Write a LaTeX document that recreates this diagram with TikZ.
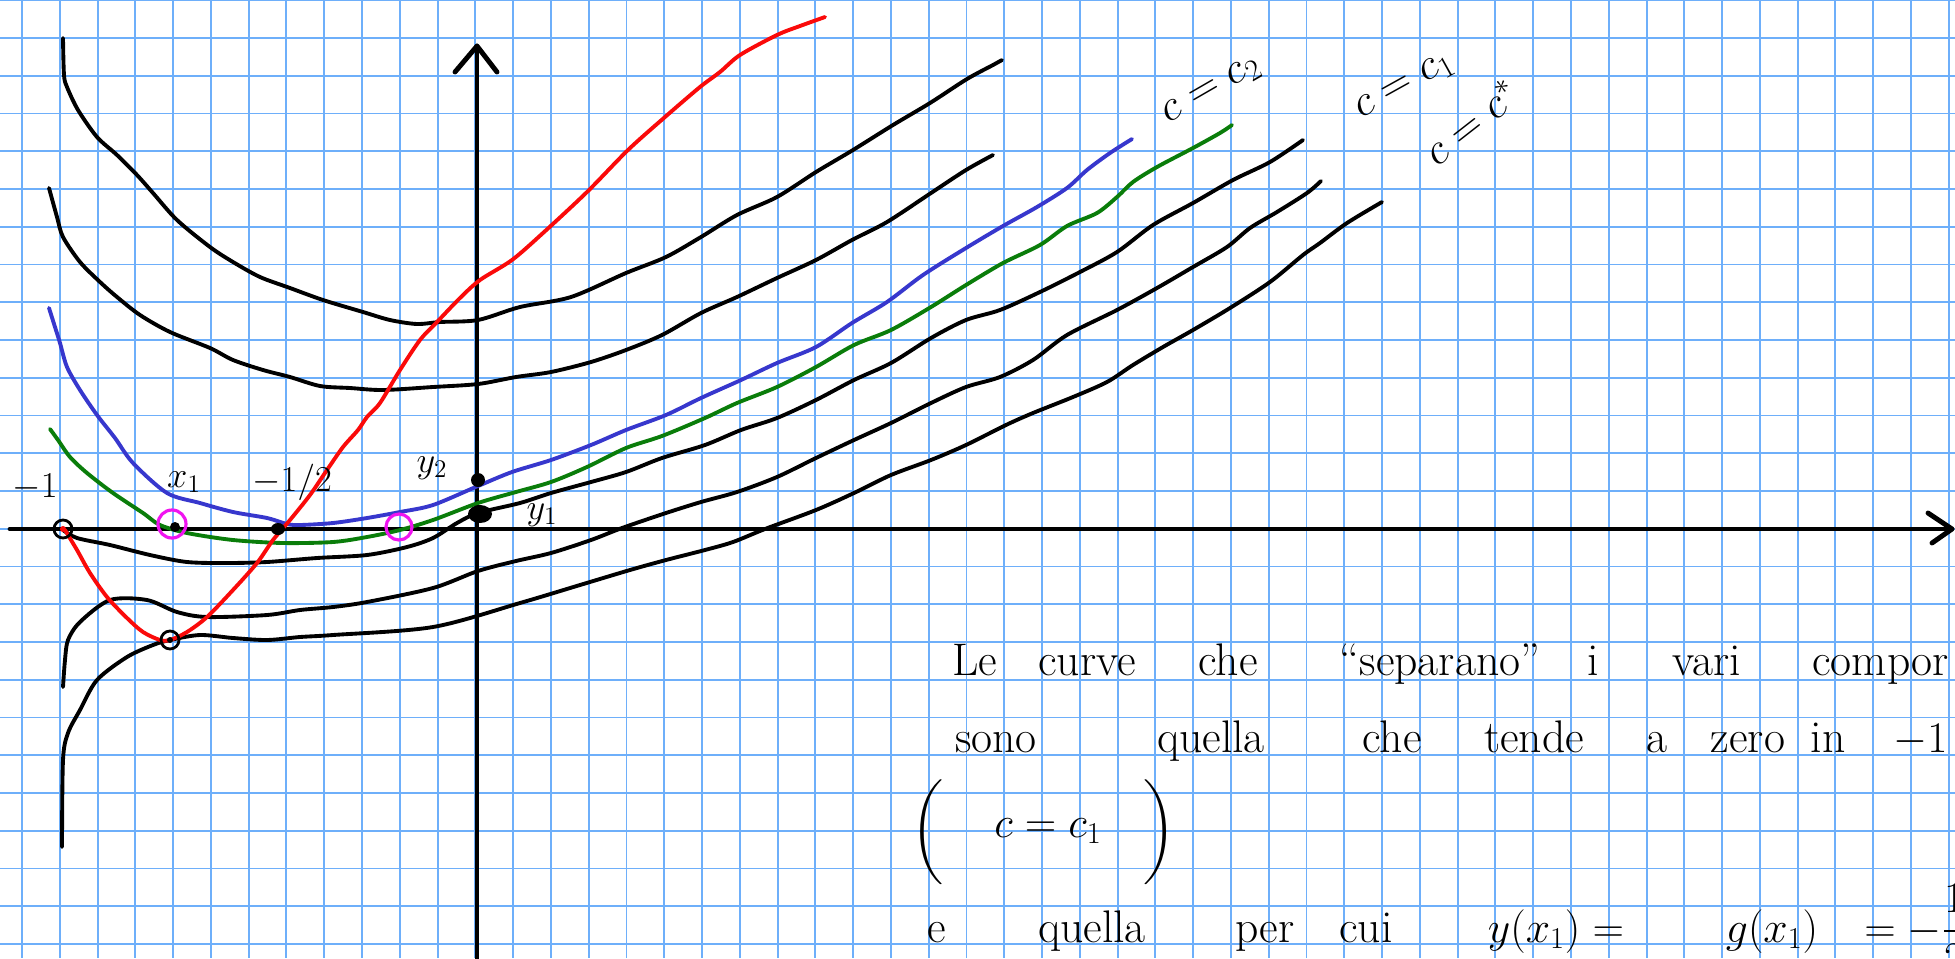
\documentclass[tikz,border=0pt]{standalone}
\usepackage{amsmath}
\definecolor{gridblue}{RGB}{110,175,250}
\definecolor{cblue}{RGB}{55,55,205}
\definecolor{cgreen}{RGB}{10,125,10}
\definecolor{cred}{RGB}{250,10,10}
\definecolor{cmag}{RGB}{240,20,240}
\begin{document}
\begin{tikzpicture}[x=0.02cm,y=-0.02cm,
  gridline/.style={gridblue, line width=1.1pt},
  axisline/.style={black, line width=2.8pt, line cap=round, line join=round},
  curveline/.style={line width=2.2pt, line cap=round, line join=round},
  lbl/.style={font=\fontsize{20}{24}\selectfont, inner sep=0pt},
  clbl/.style={font=\fontsize{26}{30}\selectfont, inner sep=0pt},
  word/.style={font=\fontsize{26}{30}\selectfont, inner sep=0pt, anchor=base},
  wordw/.style={font=\fontsize{26}{30}\selectfont, inner sep=0pt, anchor=base west},
]
\useasboundingbox (0,0) rectangle (1955,958);
\clip (0,0) rectangle (1955,958);
\fill[white] (0,0) rectangle (1955,958);
% grid
\foreach \i in {0,...,51} \draw[gridline] ({22+37.78*\i},0) -- ({22+37.78*\i},958);
\foreach \j in {0,...,25} \draw[gridline] (0,{0.25+37.75*\j}) -- (1955,{0.25+37.75*\j});
% axes
\coordinate (xs) at (10,529);
\coordinate (xe) at (1952,529);
\coordinate (ys) at (477,958);
\coordinate (ye) at (477,46);
\draw[axisline] (xs) -- (xe);
\draw[axisline] (1928,513) -- (xe) -- (1932,543);
\draw[axisline] (ys) -- (ye);
\draw[axisline] (455,72) -- (ye) -- (497,72);
% curve A
\draw[curveline] plot[smooth, tension=0.5] coordinates {(63,38) (64,75) (67,87) (78,110) (97,137) (117,155) (137,175) (153,193) (177,220) (210,247) (233,262) (260,277) (290,288) (323,300) (363,312) (390,320) (417,324) (440,322) (478,320) (520,307) (571,297) (626,273) (666,257) (701,237) (737,215) (777,197) (816,172) (853,150) (893,125) (930,103) (967,79) (993,65) (1002,60)};
% curve B
\draw[curveline] plot[smooth, tension=0.5] coordinates {(49,188) (57,217) (63,237) (80,262) (100,282) (117,297) (140,315) (170,332) (210,348) (233,360) (263,370) (290,377) (320,386) (350,388) (383,390) (433,387) (478,384) (516,377) (551,372) (591,362) (626,350) (662,335) (701,313) (737,297) (777,278) (816,260) (852,240) (887,222) (931,193) (966,170) (993,155)};
% curve E
\draw[curveline] plot[smooth, tension=0.5] coordinates {(63,530) (77,538) (110,545) (150,555) (187,562) (227,563) (267,562) (317,558) (367,555) (407,547) (433,538) (457,523) (478,513) (520,503) (551,493) (591,482) (626,472) (662,458) (705,445) (741,430) (777,418) (816,400) (854,380) (891,363) (931,338) (966,320) (1000,310) (1040,292) (1080,272) (1117,252) (1153,225) (1193,203) (1233,180) (1270,162) (1303,140)};
% curve F
\draw[curveline] plot[smooth, tension=0.5] coordinates {(63,687) (65,660) (68,640) (80,622) (110,600) (147,600) (177,612) (207,617) (267,615) (300,610) (333,607) (367,602) (433,588) (478,571) (516,561) (551,553) (591,540) (622,528) (666,513) (701,502) (737,492) (777,477) (816,458) (854,440) (891,423) (931,403) (966,387) (1000,377) (1033,360) (1067,335) (1117,310) (1157,288) (1193,267) (1227,247) (1250,228) (1277,212) (1307,193) (1321,181)};
% curve G
\draw[curveline] plot[smooth, tension=0.5] coordinates {(62,847) (63,760) (68,733) (80,710) (97,680) (127,657) (153,645) (170,640) (200,635) (233,638) (267,640) (300,637) (333,635) (433,627) (520,603) (580,585) (630,570) (666,560) (705,550) (733,542) (765,529) (816,510) (854,493) (891,475) (931,460) (966,445) (1006,425) (1033,413) (1073,397) (1107,382) (1133,365) (1163,347) (1193,330) (1230,308) (1270,282) (1303,255) (1320,243) (1347,223) (1382,202)};
% blue
\draw[curveline, cblue] plot[smooth, tension=0.5] coordinates {(49,308) (55,327) (60,343) (67,367) (80,390) (97,415) (115,438) (133,463) (167,493) (200,503) (233,512) (267,518) (287,524) (300,525) (333,523) (367,518) (400,512) (433,505) (478,486) (512,472) (551,460) (591,445) (626,430) (666,415) (701,398) (741,380) (777,363) (816,347) (852,323) (887,302) (923,275) (966,248) (1003,226) (1037,207) (1067,188) (1087,170) (1110,153) (1132,139)};
% green
\draw[curveline, cgreen] plot[smooth, tension=0.5] coordinates {(50,429) (58,440) (70,457) (87,473) (113,493) (143,513) (160,525) (187,533) (233,540) (283,543) (333,542) (367,537) (400,530) (433,520) (478,503) (516,492) (551,482) (587,467) (626,448) (662,436) (705,418) (737,403) (777,387) (816,367) (854,345) (891,330) (931,307) (966,285) (1003,263) (1040,245) (1067,226) (1097,213) (1117,197) (1133,182) (1157,167) (1193,148) (1220,133) (1232,125)};
% red
\draw[curveline, cred] plot[smooth, tension=0.5] coordinates {(65,530) (77,550) (90,573) (107,597) (127,618) (143,632) (160,640) (170,640) (187,632) (207,617) (233,590) (257,563) (273,540) (290,520) (310,495) (327,470) (343,447) (358,430) (367,417) (380,403) (400,370) (420,340) (437,322) (460,298) (480,280) (512,260) (543,233) (587,192) (628,150) (665,117) (700,87) (720,72) (740,55) (777,35) (800,26) (825,17)};
% points
\draw[black, line width=1.6pt] (63,529) circle [radius=9];
\fill[cred] (63,529) circle [radius=3];
\draw[black, line width=1.6pt] (170,640) circle [radius=9];
\fill[black] (170,640) circle [radius=3];
\draw[cmag, line width=1.8pt] (172,524) circle [radius=14];
\fill[black] (175,527) circle [radius=5];
\fill[black] (278,529) ellipse [x radius=7, y radius=6];
\draw[cmag, line width=1.8pt] (399,527) circle [radius=13];
\fill[black] (478,480) circle [radius=7];
\fill[black] (480,514) ellipse [x radius=12, y radius=9];
% labels
\node[lbl] (lm1) at (35,487) {$-1$};
\node[lbl] (lx1) at (184,482) {$x_1$};
\node[lbl] (lhalf) at (292,482) {$-1/2$};
\node[lbl] (ly2) at (432,468) {$y_2$};
\node[lbl] (ly1) at (542,515) {$y_1$};
\node[clbl, rotate=30] (lc2) at (1212,91) {$c = c_{2}$};
\node[clbl, rotate=29] (lc1) at (1405,87) {$c = c_{1}$};
\node[clbl, rotate=38] (lcs) at (1471,122) {$c = c^{*}$};
% text line 1
\node[word] (w11) at (975,675) {Le};
\node[word] (w12) at (1087,675) {curve};
\node[word] (w13) at (1228,675) {che};
\node[word] (w14) at (1440,675) {``separano''};
\node[word] (w15) at (1593,675) {i};
\node[word] (w16) at (1707,675) {vari};
\node[wordw] (w17) at (1812,675) {compor};
% text line 2
\node[word] (w21) at (996,752) {sono};
\node[word] (w22) at (1211,752) {quella};
\node[word] (w23) at (1392,752) {che};
\node[word] (w24) at (1534,752) {tende};
\node[word] (w25) at (1657,752) {a};
\node[word] (w26) at (1748,752) {zero};
\node[word] (w27) at (1828,752) {in};
\node[wordw] (w28) at (1893,752) {$-1$};
% text line 3
\node[word, font=\fontsize{23}{26}\selectfont] (w31) at (928,843) {$\biggl($};
\node[word] (w32) at (1048,837) {$c = c_1$};
\node[word, font=\fontsize{23}{26}\selectfont] (w33) at (1160,843) {$\biggr)$};
% text line 4
\node[word] (w41) at (937,942) {e};
\node[word] (w42) at (1092,942) {quella};
\node[word] (w43) at (1265,942) {per};
\node[word] (w44) at (1366,942) {cui};
\node[word] (w45) at (1556,942) {$y(x_1) =$};
\node[word] (w46) at (1772,942) {$g(x_1)$};
\node[wordw] (w47) at (1864,942) {$=-\dfrac{1}{2}$};
\end{tikzpicture}
\end{document}
